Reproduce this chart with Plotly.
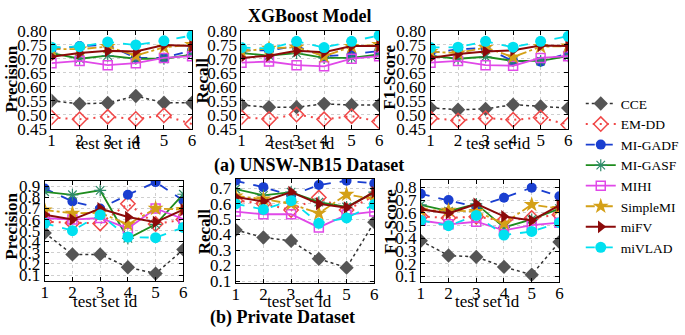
import plotly.graph_objects as go

W, H = 685, 335
x_ids = [1, 2, 3, 4, 5, 6]
methods = ["CCE", "EM-DD", "MI-GADF", "MI-GASF", "MIHI", "SimpleMI", "miFV", "miVLAD"]

# (a) UNSW-NB15
unsw_precision = {
    "CCE": [0.550, 0.539, 0.542, 0.567, 0.543, 0.543],
    "EM-DD": [0.490, 0.484, 0.493, 0.485, 0.498, 0.467],
    "MI-GADF": [0.734, 0.745, 0.750, 0.703, 0.703, 0.730],
    "MI-GASF": [0.720, 0.700, 0.711, 0.700, 0.700, 0.715],
    "MIHI": [0.684, 0.692, 0.677, 0.684, 0.703, 0.709],
    "SimpleMI": [0.734, 0.734, 0.743, 0.711, 0.741, 0.750],
    "miFV": [0.707, 0.720, 0.728, 0.726, 0.749, 0.745],
    "miVLAD": [0.741, 0.743, 0.760, 0.749, 0.764, 0.783],
}
unsw_recall = {
    "CCE": [0.535, 0.527, 0.527, 0.539, 0.535, 0.535],
    "EM-DD": [0.491, 0.485, 0.501, 0.484, 0.495, 0.476],
    "MI-GADF": [0.730, 0.730, 0.745, 0.709, 0.715, 0.728],
    "MI-GASF": [0.720, 0.711, 0.720, 0.703, 0.703, 0.715],
    "MIHI": [0.686, 0.690, 0.677, 0.673, 0.700, 0.709],
    "SimpleMI": [0.726, 0.737, 0.741, 0.709, 0.743, 0.750],
    "miFV": [0.703, 0.711, 0.728, 0.723, 0.745, 0.745],
    "miVLAD": [0.740, 0.737, 0.762, 0.740, 0.762, 0.783],
}
unsw_f1 = {
    "CCE": [0.525, 0.518, 0.521, 0.536, 0.530, 0.524],
    "EM-DD": [0.488, 0.480, 0.488, 0.482, 0.490, 0.465],
    "MI-GADF": [0.720, 0.734, 0.738, 0.692, 0.689, 0.720],
    "MI-GASF": [0.710, 0.700, 0.707, 0.692, 0.692, 0.709],
    "MIHI": [0.686, 0.692, 0.677, 0.675, 0.703, 0.709],
    "SimpleMI": [0.725, 0.720, 0.740, 0.706, 0.743, 0.745],
    "miFV": [0.703, 0.717, 0.726, 0.730, 0.747, 0.745],
    "miVLAD": [0.740, 0.741, 0.762, 0.741, 0.762, 0.780],
}
# (b) Private
priv_precision = {
    "CCE": [0.480, 0.286, 0.286, 0.171, 0.114, 0.330],
    "EM-DD": [0.580, 0.570, 0.565, 0.742, 0.560, 0.600],
    "MI-GADF": [0.880, 0.763, 0.700, 0.823, 0.937, 0.771],
    "MI-GASF": [0.850, 0.823, 0.863, 0.430, 0.557, 0.828],
    "MIHI": [0.614, 0.600, 0.614, 0.520, 0.700, 0.605],
    "SimpleMI": [0.686, 0.657, 0.660, 0.557, 0.700, 0.690],
    "miFV": [0.643, 0.600, 0.700, 0.623, 0.577, 0.690],
    "miVLAD": [0.566, 0.500, 0.643, 0.443, 0.437, 0.529],
}
priv_recall = {
    "CCE": [0.430, 0.381, 0.359, 0.243, 0.186, 0.480],
    "EM-DD": [0.619, 0.600, 0.558, 0.639, 0.558, 0.649],
    "MI-GADF": [0.747, 0.706, 0.653, 0.720, 0.747, 0.730],
    "MI-GASF": [0.694, 0.653, 0.674, 0.609, 0.578, 0.674],
    "MIHI": [0.548, 0.531, 0.531, 0.446, 0.527, 0.548],
    "SimpleMI": [0.649, 0.629, 0.598, 0.537, 0.659, 0.629],
    "miFV": [0.643, 0.613, 0.674, 0.598, 0.574, 0.674],
    "miVLAD": [0.598, 0.562, 0.619, 0.473, 0.507, 0.594],
}
priv_f1 = {
    "CCE": [0.380, 0.265, 0.254, 0.175, 0.114, 0.371],
    "EM-DD": [0.572, 0.560, 0.570, 0.540, 0.560, 0.585],
    "MI-GADF": [0.749, 0.700, 0.646, 0.719, 0.798, 0.731],
    "MI-GASF": [0.663, 0.614, 0.670, 0.486, 0.548, 0.633],
    "MIHI": [0.540, 0.510, 0.530, 0.462, 0.503, 0.523],
    "SimpleMI": [0.620, 0.620, 0.610, 0.516, 0.665, 0.633],
    "miFV": [0.628, 0.596, 0.670, 0.572, 0.540, 0.658],
    "miVLAD": [0.540, 0.499, 0.580, 0.425, 0.454, 0.523],
}

styles = {
    "CCE": dict(line=dict(color="#333333", dash="dot", width=1.5),
                marker=dict(symbol="diamond", color="#555555", size=11)),
    "EM-DD": dict(line=dict(color="#f04848", dash="2px,5px", width=2),
                  marker=dict(symbol="diamond-open", color="#f04848", size=11, line=dict(width=1.5))),
    "MI-GADF": dict(line=dict(color="#1a3fd0", dash="dash", width=1.8),
                    marker=dict(symbol="circle", color="#1a3fd0", size=10)),
    "MI-GASF": dict(line=dict(color="#1e8c1e", dash="solid", width=1.8),
                    marker=dict(symbol="asterisk-open", color="#2e8b6a", size=10, line=dict(width=1.2, color="#2e8b6a"))),
    "MIHI": dict(line=dict(color="#e048e8", dash="solid", width=1.8),
                 marker=dict(symbol="square-open", color="#e048e8", size=9, line=dict(width=1.5))),
    "SimpleMI": dict(line=dict(color="#d4a017", dash="dashdot", width=1.8),
                     marker=dict(symbol="star", color="#d4a017", size=12)),
    "miFV": dict(line=dict(color="#8b0a0a", dash="solid", width=2),
                 marker=dict(symbol="triangle-right", color="#8b0a0a", size=11)),
    "miVLAD": dict(line=dict(color="#00e0f0", dash="dash", width=1.8),
                   marker=dict(symbol="circle", color="#00e0f0", size=11)),
}

FONT = "Liberation Serif, Times New Roman, serif"
FS = 17

panels = [
    # data, x px range, y px range (top, bottom), yrange, dtick, fmt
    (unsw_precision, (49, 194), (23, 127), [0.45, 0.80], 0.05, ".2f"),
    (unsw_recall, (245, 387), (23, 127), [0.45, 0.80], 0.05, ".2f"),
    (unsw_f1, (440, 582), (23, 127), [0.45, 0.80], 0.05, ".2f"),
    (priv_precision, (42, 185), (182, 288), [0.05, 0.95], 0.1, ".1f"),
    (priv_recall, (239, 382), (180, 290), [0.09, 0.76], 0.1, ".1f"),
    (priv_f1, (430, 573), (181, 289), [0.06, 0.86], 0.1, ".1f"),
]

fig = go.Figure()
layout = {}
for i, (data, xp, yp, yr, dt, fmt) in enumerate(panels):
    n = "" if i == 0 else str(i + 1)
    for m in methods:
        st = styles[m]
        fig.add_trace(go.Scatter(
            x=x_ids, y=data[m], mode="lines+markers", name=m,
            line=st["line"], marker=st["marker"],
            xaxis="x" + n, yaxis="y" + n,
            legendgroup=m, showlegend=(i == 0)))
    axcommon = dict(showline=True, linecolor="black", linewidth=1, mirror="ticks",
                    ticks="inside", ticklen=4, tickcolor="black",
                    showgrid=True, gridcolor="#cfcfcf", griddash="dot", gridwidth=1,
                    zeroline=False, tickfont=dict(family=FONT, size=FS, color="black"))
    layout["xaxis" + n] = dict(axcommon, domain=[xp[0] / W, xp[1] / W], range=[1, 6],
                               tickvals=x_ids, anchor="y" + n, ticklabelstandoff=-4)
    layout["yaxis" + n] = dict(axcommon, domain=[1 - yp[1] / H, 1 - yp[0] / H], range=yr,
                               dtick=dt, tick0=0, tickformat=fmt, anchor="x" + n)

fig.update_layout(**layout)

annotations = []
def txt(t, x, y, bold=False, size=FS, angle=0):
    annotations.append(dict(text=("<b>%s</b>" % t) if bold else t, x=x / W, y=1 - y / H,
                            xref="paper", yref="paper", showarrow=False, textangle=angle,
                            xanchor="center", yanchor="middle",
                            font=dict(family=FONT, size=size, color="black")))

txt("XGBoost Model", 316, 7, bold=True, size=18)
txt("(a) UNSW-NB15 Dataset", 315, 166, bold=True, size=18)
txt("(b) Private Dataset", 287, 327, bold=True, size=18)
for xc, yc in [(108, 143), (308, 143), (510, 143), (105, 310), (305, 310), (499, 310)]:
    txt("test set id", xc, yc)
for t, xc, yc in [("Precision", 8, 74), ("Recall", 205, 76), ("F1-Score", 398, 72),
                  ("Precision", 8, 230), ("Recall", 207, 236), ("F1-Score", 398, 225)]:
    txt(t, xc, yc, bold=True, angle=-90)

fig.update_layout(
    width=W, height=H, margin=dict(l=0, r=0, t=0, b=0),
    paper_bgcolor="white", plot_bgcolor="white",
    annotations=annotations,
    legend=dict(x=595 / W, y=1 - 84 / H, xanchor="left", yanchor="top",
                font=dict(family=FONT, size=13.5, color="black"),
                bgcolor="rgba(0,0,0,0)", tracegroupgap=0, itemwidth=30),
    showlegend=True,
)

fig.write_html("out.html", config={"displayModeBar": False},
               post_script="document.body.style.margin='0';")
